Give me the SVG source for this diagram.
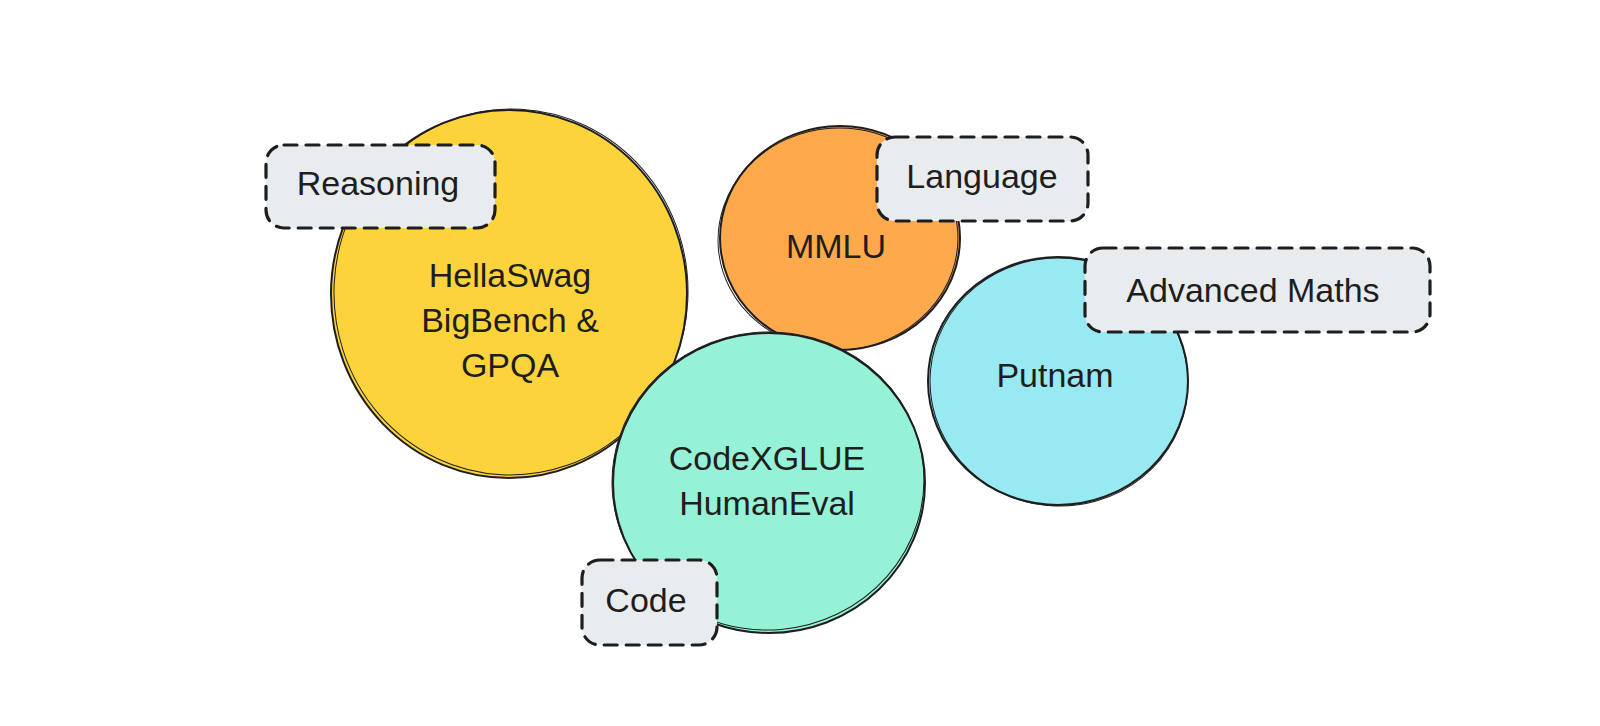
<svg xmlns="http://www.w3.org/2000/svg" width="1600" height="726" viewBox="0 0 1600 726">
<style>
.c{stroke:#1e1e1e;stroke-width:2}
.c2{fill:none;stroke:#1e1e1e;stroke-width:1}
.b{fill:#e9ecef;stroke:#1e1e1e;stroke-width:3.2;stroke-dasharray:13 9;stroke-linecap:round}
.t{font-family:"Liberation Sans","Noto Sans",sans-serif;font-size:34px;fill:#1e1e1e;text-anchor:middle}
</style>
<rect width="1600" height="726" fill="#ffffff"/>
<g id="reasoning-circle">
<ellipse class="c" cx="509" cy="294" rx="178" ry="184" fill="#fdd33c"/>
<ellipse class="c2" cx="511" cy="292" rx="177" ry="183" transform="rotate(3 511 292)"/>
<text class="t"><tspan x="510" y="287">HellaSwag</tspan><tspan x="510" y="332">BigBench &amp;</tspan><tspan x="510" y="377">GPQA</tspan></text>
</g>
<g id="language-circle">
<ellipse class="c" cx="840" cy="238" rx="120" ry="112" fill="#ffa94d"/>
<ellipse class="c2" cx="838" cy="239" rx="120" ry="111" transform="rotate(-4 838 239)"/>
<text class="t" x="836" y="258">MMLU</text>
</g>
<g id="maths-circle">
<ellipse class="c" cx="1058" cy="381" rx="130" ry="124" fill="#99e9f2"/>
<ellipse class="c2" cx="1059" cy="382" rx="129" ry="124" transform="rotate(5 1059 382)"/>
<text class="t" x="1055" y="387">Putnam</text>
</g>
<g id="code-circle">
<ellipse class="c" cx="769" cy="483" rx="156" ry="150" fill="#96f2d7"/>
<ellipse class="c2" cx="768" cy="481" rx="156" ry="149" transform="rotate(-5 768 481)"/>
<text class="t"><tspan x="767" y="470">CodeXGLUE</tspan><tspan x="767" y="515">HumanEval</tspan></text>
</g>
<g id="reasoning-label">
<rect class="b" x="266" y="145" width="229" height="83" rx="18"/>
<text class="t" x="378" y="195">Reasoning</text>
</g>
<g id="language-label">
<rect class="b" x="877" y="137" width="211" height="84" rx="18"/>
<text class="t" x="982" y="188">Language</text>
</g>
<g id="maths-label">
<rect class="b" x="1085" y="248" width="345" height="84" rx="18"/>
<text class="t" x="1253" y="302">Advanced Maths</text>
</g>
<g id="code-label">
<rect class="b" x="582" y="560" width="135" height="85" rx="18"/>
<text class="t" x="646" y="612">Code</text>
</g>
<g id="connectors"></g>
</svg>
